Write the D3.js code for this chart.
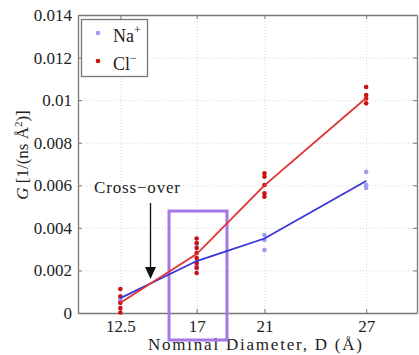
<!DOCTYPE html>
<html>
<head>
<meta charset="utf-8">
<script src="https://cdn.jsdelivr.net/npm/d3@7"></script>
<style>
  html, body { margin: 0; padding: 0; background: #fff; }
</style>
</head>
<body>
<svg id="chart" width="419" height="355"></svg>
<script>
// Nominal pore diameters (Å)
const diameters = [12.5, 17, 21, 27];
const xTickLabels = ["12.5", "17", "21", "27"];
const yTicks = [0, 0.002, 0.004, 0.006, 0.008, 0.01, 0.012, 0.014];
const yTickLabels = ["0", "0.002", "0.004", "0.006", "0.008", "0.01", "0.012", "0.014"];

// Individual conductance samples per diameter
const naSamples = [
  [0.00077, 0.00061, 0.00047],
  [0.00319, 0.00241, 0.00225, 0.00211],
  [0.00366, 0.00343, 0.00296],
  [0.00663, 0.00601, 0.00587]
];
const clSamples = [
  [0.00113, 0.00077, 0.00048, 0.00023, 0.00002],
  [0.0035, 0.00329, 0.00305, 0.00282, 0.00258, 0.00235, 0.00213, 0.00188],
  [0.00656, 0.0064, 0.00601, 0.00562, 0.00546],
  [0.01062, 0.01024, 0.01008, 0.00985]
];
// Mean conductance per diameter
const naMean = [0.0007, 0.00244, 0.0035, 0.0062];
const clMean = [0.00048, 0.00277, 0.006, 0.0101];

const SERIF = "'Liberation Serif', 'Times New Roman', Times, 'DejaVu Serif', serif";
const svg = d3.select("#chart");
const M = { left: 78, right: 417, top: 15, bottom: 313 };

const x = d3.scaleLinear().domain([10, 30]).range([M.left, M.right]);
const y = d3.scaleLinear().domain([0, 0.014]).range([M.bottom, M.top]);

// dotted grid
const grid = svg.append("g").attr("stroke", "#d8d8d8").attr("stroke-width", 1)
  .attr("stroke-dasharray", "1,2");
grid.selectAll("line.gy").data(yTicks.slice(1, -1)).enter().append("line")
  .attr("x1", M.left).attr("x2", M.right)
  .attr("y1", d => y(d) + 0.5).attr("y2", d => y(d) + 0.5);
grid.selectAll("line.gx").data(diameters).enter().append("line")
  .attr("y1", M.top).attr("y2", M.bottom)
  .attr("x1", d => x(d) + 0.5).attr("x2", d => x(d) + 0.5);

// axes: ticks inward on all four sides
const fmtY = (d, i) => yTickLabels[i];
const fmtX = (d, i) => xTickLabels[i];
const axL = svg.append("g").attr("transform", `translate(${M.left},0)`)
  .call(d3.axisLeft(y).tickValues(yTicks).tickFormat(fmtY).tickSizeInner(-4).tickSizeOuter(0).tickPadding(6));
const axR = svg.append("g").attr("transform", `translate(${M.right},0)`)
  .call(d3.axisRight(y).tickValues(yTicks).tickFormat("").tickSizeInner(-4).tickSizeOuter(0));
const axB = svg.append("g").attr("transform", `translate(0,${M.bottom})`)
  .call(d3.axisBottom(x).tickValues(diameters).tickFormat(fmtX).tickSizeInner(-4).tickSizeOuter(0).tickPadding(6));
const axT = svg.append("g").attr("transform", `translate(0,${M.top})`)
  .call(d3.axisTop(x).tickValues(diameters).tickFormat("").tickSizeInner(-4).tickSizeOuter(0));
[axL, axR, axB, axT].forEach(a => {
  a.attr("font-family", SERIF).attr("font-size", 17);
  a.select(".domain").attr("stroke", "#777").attr("stroke-width", 1.3);
  a.selectAll(".tick line").attr("stroke", "#777");
  a.selectAll("text").style("font-family", SERIF).style("font-size", "17px").attr("fill", "#222");
});
axB.selectAll(".tick text").attr("dy", "0.75em");

// axis titles
svg.append("text")
  .style("font-family", SERIF).style("font-size", "17px").attr("fill", "#222")
  .attr("x", 255).attr("y", 350)
  .attr("text-anchor", "middle")
  .attr("textLength", 214).attr("lengthAdjust", "spacing")
  .text("Nominal Diameter, D (Å)");

const yt = svg.append("text")
  .style("font-family", SERIF).style("font-size", "17px").attr("fill", "#222")
  .attr("transform", "translate(28,155) rotate(-90)")
  .attr("text-anchor", "middle");
yt.append("tspan").attr("font-style", "italic").text("G");
yt.append("tspan").text(" [1/(ns Å");
yt.append("tspan").style("font-size", "11px").attr("dy", -6).text("2");
yt.append("tspan").attr("dy", 6).text(")]");

// highlight box around D = 17 Å
const boxTop = 0.00479;
svg.append("rect")
  .attr("x", x(15.37)).attr("y", y(boxTop))
  .attr("width", x(18.79) - x(15.37)).attr("height", 340 - y(boxTop))
  .attr("fill", "none").attr("stroke", "#a678e6").attr("stroke-width", 3);

// sample points
const drawSamples = (samples, color) => {
  const pts = samples.flatMap((vals, i) => vals.map(v => ({ d: diameters[i], v })));
  svg.append("g").selectAll("circle").data(pts).enter().append("circle")
    .attr("cx", p => x(p.d)).attr("cy", p => y(p.v)).attr("r", 2.3)
    .attr("fill", color);
};
drawSamples(naSamples, "#9d9df0");
drawSamples(clSamples, "#cc1111");

// mean lines
const line = d3.line().x((v, i) => x(diameters[i])).y(v => y(v));
svg.append("path").datum(naMean).attr("d", line)
  .attr("fill", "none").attr("stroke", "#3535dd").attr("stroke-width", 1.8);
svg.append("path").datum(clMean).attr("d", line)
  .attr("fill", "none").attr("stroke", "#e03333").attr("stroke-width", 1.8);

// cross-over annotation
svg.append("text")
  .style("font-family", SERIF).style("font-size", "17px").attr("fill", "#222")
  .attr("x", 94).attr("y", 193)
  .attr("textLength", 86).attr("lengthAdjust", "spacing")
  .text("Cross−over");
svg.append("line")
  .attr("x1", 150.5).attr("x2", 150.5).attr("y1", 203).attr("y2", 268)
  .attr("stroke", "#111").attr("stroke-width", 1.3);
svg.append("path")
  .attr("d", "M145,267 L156,267 L150.5,279 Z").attr("fill", "#111");

// legend
const lg = svg.append("g");
lg.append("rect").attr("x", 81.5).attr("y", 19.5).attr("width", 66).attr("height", 57)
  .attr("fill", "#fff").attr("stroke", "#777").attr("stroke-width", 1.3);
const legendItems = [
  { color: "#9d9df0", base: "Na", sup: "+", cy: 33 },
  { color: "#cc1111", base: "Cl", sup: "−", cy: 61 }
];
legendItems.forEach(it => {
  lg.append("circle").attr("cx", 98).attr("cy", it.cy).attr("r", 2.3).attr("fill", it.color);
  const t = lg.append("text")
    .style("font-family", SERIF).style("font-size", "18px").attr("fill", "#222")
    .attr("x", 113).attr("y", it.cy + 9);
  t.append("tspan").text(it.base);
  t.append("tspan").style("font-size", "12px").attr("dy", -8).text(it.sup);
});
</script>
</body>
</html>
